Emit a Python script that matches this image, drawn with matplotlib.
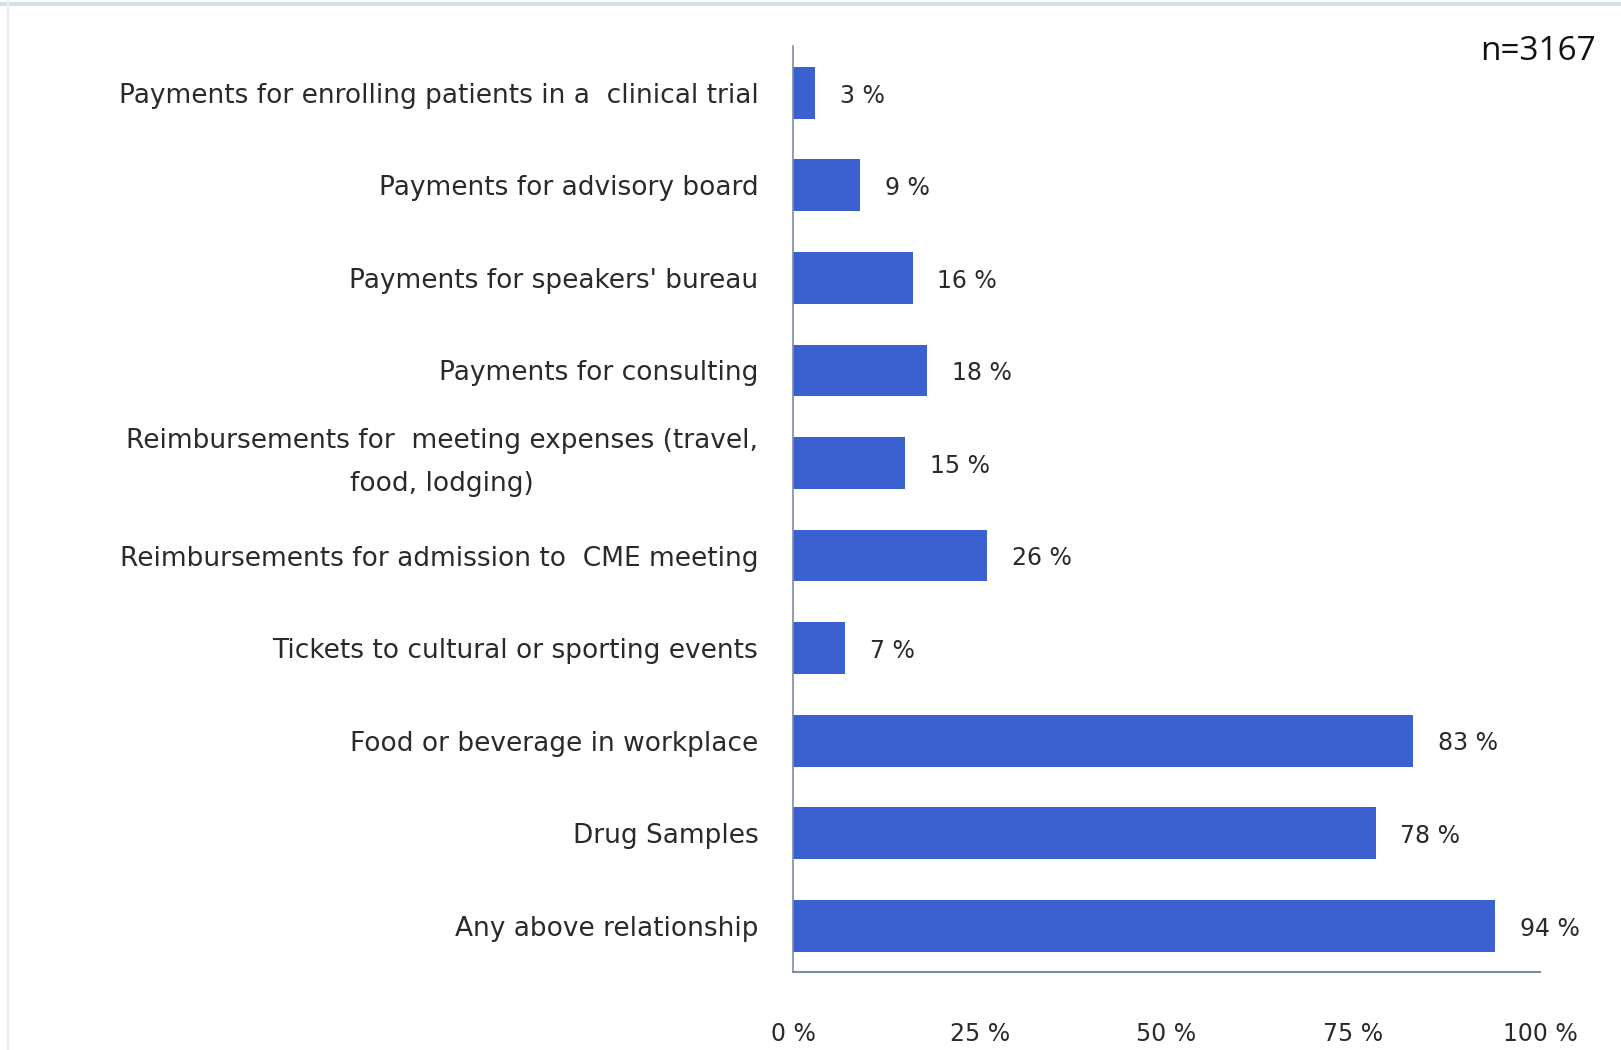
import matplotlib
matplotlib.use("Agg")
import matplotlib.pyplot as plt

categories = [
    "Payments for enrolling patients in a  clinical trial",
    "Payments for advisory board",
    "Payments for speakers' bureau",
    "Payments for consulting",
    "Reimbursements for  meeting expenses (travel,\nfood, lodging)",
    "Reimbursements for admission to  CME meeting",
    "Tickets to cultural or sporting events",
    "Food or beverage in workplace",
    "Drug Samples",
    "Any above relationship",
]
values = [3, 9, 16, 18, 15, 26, 7, 83, 78, 94]
xticks = [0, 25, 50, 75, 100]
xtick_labels = ["0 %", "25 %", "50 %", "75 %", "100 %"]
sample_note = "n=3167"

plt.rcParams["font.family"] = ["DejaVu Sans"]
bar_color = "#3b60d0"
text_color = "#2a2a2a"

fig = plt.figure(figsize=(16.21, 10.50), dpi=100)
fig.patch.set_facecolor("white")
ax = fig.add_axes([793 / 1621, 1 - 972 / 1050, (1540 - 793) / 1621, (972 - 46.5) / 1050])

pos = list(range(len(categories)))
ax.barh(pos, values, height=0.56, color=bar_color, edgecolor="none")
ax.set_ylim(len(categories) - 0.5, -0.5)
ax.set_xlim(0, 100)

ax.set_yticks(pos)
ax.set_yticklabels(categories, fontsize=19, color=text_color, ha="right",
                   multialignment="center", linespacing=1.85)
# two-line label: center the whole block on its bar
for lbl in ax.get_yticklabels():
    if "\n" in lbl.get_text():
        lbl.set_va("center")
ax.tick_params(axis="y", length=0, pad=25)
ax.set_xticks(xticks)
ax.set_xticklabels(xtick_labels, fontsize=17, color=text_color)
ax.tick_params(axis="x", length=0, pad=36)

for p, v in zip(pos, values):
    ax.text(v + 3.3, p + 0.03, f"{v} %", va="center", ha="left", fontsize=17, color=text_color)

for side in ("top", "right"):
    ax.spines[side].set_visible(False)
ax.spines["left"].set_color("#7f8aa8")
ax.spines["left"].set_linewidth(1.2)
ax.spines["bottom"].set_color("#7f8aa8")
ax.spines["bottom"].set_linewidth(1.5)

fig.text(1538 / 1621, 1 - 52 / 1050, sample_note, ha="center", va="center",
         fontsize=24, color="#111111", family=["Open Sans", "DejaVu Sans"])

# thin frame strip along the top and left edges
fig.add_artist(plt.Line2D([0, 1], [0.996, 0.996], transform=fig.transFigure, color="#d6e2e6", linewidth=3))
fig.add_artist(plt.Line2D([0.005, 0.005], [0, 1], transform=fig.transFigure, color="#e8eef0", linewidth=1.5))

fig.savefig("out.png", dpi=100, facecolor="white")
